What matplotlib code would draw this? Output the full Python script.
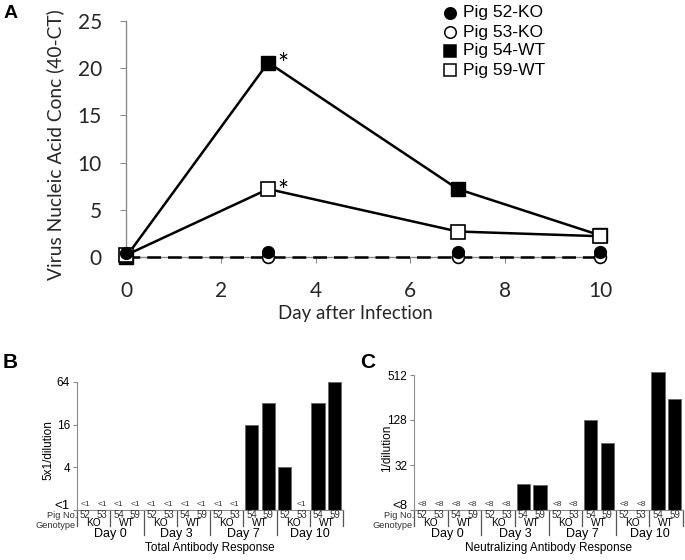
import matplotlib
matplotlib.use("Agg")
import matplotlib.pyplot as plt
from matplotlib.lines import Line2D
from matplotlib.transforms import ScaledTranslation

W, H = 685, 560

# panel A: virus nucleic acid (40-CT) by day
days = [0, 3, 7, 10]
pig52_ko = [0.4, 0.5, 0.5, 0.5]
pig53_ko = [0.0, 0.0, 0.0, 0.0]
pig54_wt = [0.0, 20.6, 7.2, 2.3]
pig59_wt = [0.2, 7.2, 2.7, 2.2]
legend_labels = ["Pig 52-KO", "Pig 53-KO", "Pig 54-WT", "Pig 59-WT"]

# panels B/C: one value per pig (52, 53, 54, 59) per day; None = below detection
pig_no = ["52", "53", "54", "59"]
genotypes = ["KO", "WT"]
day_labels = ["Day 0", "Day 3", "Day 7", "Day 10"]
total_ab = [None, None, None, None, None, None, None, None,
            None, None, 16, 32, 4, None, 32, 64]
neut_ab = [None, None, None, None, None, None, 18, 17.5,
           None, None, 128, 64, None, None, 560, 245]
total_ticks = [1, 4, 16, 64]
total_ticklabels = ["<1", "4", "16", "64"]
neut_ticks = [8, 32, 128, 512]
neut_ticklabels = ["<8", "32", "128", "512"]

SPINE = "#8c8c8c"
ARIAL = "Liberation Sans"


def fx(px):
    return px / W


def fy(py):
    return 1 - py / H


def box(l, t, r, b):
    return [fx(l), fy(b), fx(r) - fx(l), fy(t) - fy(b)]


fig = plt.figure(figsize=(W / 100, H / 100), dpi=100)

# ---------------- panel A ----------------
ax = fig.add_axes(box(126, 21, 600, 257))
ax.plot(days, pig53_ko, color="k", lw=1.8, ls=(0, (5.5, 2.8)), marker="o",
        ms=8.5, mfc="white", mec="k", mew=1.2, clip_on=False, zorder=3)
ax.plot(days, pig54_wt, color="k", lw=1.8, marker="s", ms=9.5,
        mfc="k", mec="k", clip_on=False, zorder=4)
ax.plot(days, pig59_wt, color="k", lw=1.8, marker="s", ms=9.5,
        mfc="white", mec="k", mew=1.2, clip_on=False, zorder=4)
ax.plot(days, pig52_ko, ls="none", marker="o", ms=8.5, mfc="k", mec="k",
        clip_on=False, zorder=5)
for y in (pig54_wt[1], pig59_wt[1]):
    ax.annotate("*", (days[1], y), textcoords="offset pixels", xytext=(15, -3),
                ha="center", va="center", fontsize=19, family="Lato")

ax.set_xlim(0, 10)
ax.set_ylim(0, 25)
ax.set_xticks(range(0, 11, 2))
ax.set_yticks(range(0, 26, 5))
for s in ("top", "right"):
    ax.spines[s].set_visible(False)
for s in ("left", "bottom"):
    ax.spines[s].set_color(SPINE)
    ax.spines[s].set_linewidth(1.0)
ax.tick_params(length=4.3, width=0.8, color=SPINE, pad=13, labelsize=15,
               labelcolor="#262626")
for lab in ax.get_xticklabels() + ax.get_yticklabels():
    lab.set_family("Lato")
fig.text(fx(55), fy(145), "Virus Nucleic Acid Conc (40-CT)", rotation=90,
         ha="center", va="center", fontsize=13.8, family="Lato", color="#262626")
fig.text(fx(355), fy(313), "Day after Infection", ha="center", va="center",
         fontsize=13.4, family="Lato", color="#262626")

# legend drawn by hand
styles = [("o", "k"), ("o", "white"), ("s", "k"), ("s", "white")]
for i, (lab, (mk, fc)) in enumerate(zip(legend_labels, styles)):
    y = 13 + 19 * i
    fig.add_artist(Line2D([fx(450)], [fy(y)], marker=mk, ms=8.3, mfc=fc, mec="k",
                          mew=1.1, ls="none", transform=fig.transFigure))
    fig.text(fx(463), fy(y), lab, ha="left", va="center", fontsize=12.5,
             family=ARIAL)

fig.text(fx(4), fy(14), "A", fontsize=14, weight="bold", family=ARIAL,
         ha="left", va="center")


# ---------------- panels B and C ----------------
def titer_panel(rect, values, lo, hi, ticks, ticklabels, ylabel, ylabel_xy,
                title, below):
    ax = fig.add_axes(rect)
    ax.set_yscale("log", base=2)
    ax.set_ylim(lo, hi)
    ax.set_xlim(0, len(values))
    for i, v in enumerate(values):
        if v is None:
            ax.annotate(below, (i + 0.5, lo), textcoords="offset pixels",
                        xytext=(0, 2), ha="center", va="bottom", fontsize=6,
                        family=ARIAL, color="#333333")
        else:
            ax.bar(i + 0.5, v - lo, bottom=lo, width=0.8, color="k",
                   edgecolor="#666666", linewidth=0.6, clip_on=False)
    ax.set_yticks(ticks)
    ax.set_yticklabels(ticklabels)
    ax.minorticks_off()
    ax.set_xticks([])
    for s in ("top", "right"):
        ax.spines[s].set_visible(False)
    for s in ("left", "bottom"):
        ax.spines[s].set_color(SPINE)
        ax.spines[s].set_linewidth(0.8)
    ax.tick_params(axis="y", length=3, width=0.8, color=SPINE, pad=2,
                   labelsize=8.5)
    labs = ax.get_yticklabels()
    for lab in labs:
        lab.set_family(ARIAL)
    # lowest label sits a little above its tick, clear of the table
    labs[0].set_fontsize(9.5)
    labs[0].set_transform(labs[0].get_transform()
                          + ScaledTranslation(0, 4 / 72, fig.dpi_scale_trans))

    hpx = rect[3] * H
    trans = ax.get_xaxis_transform()

    def yfrac(dpx):
        return -dpx / hpx

    n = len(values)
    for k in range(0, n + 1, 2):
        depth = 25 if (k % 4 == 0 and 0 < k < n) else 16
        ax.plot([k, k], [0, yfrac(depth)], color="#555555", lw=0.9,
                transform=trans, clip_on=False)
    for i in range(n):
        ax.text(i + 0.5, yfrac(5), pig_no[i % 4], transform=trans, ha="center",
                va="center", fontsize=7, family=ARIAL, color="#333333")
    for g in range(n // 2):
        ax.text(2 * g + 1, yfrac(13.5), genotypes[g % 2], transform=trans,
                ha="center", va="center", fontsize=7.3, family=ARIAL)
    for d in range(n // 4):
        ax.text(4 * d + 2, yfrac(24), day_labels[d], transform=trans,
                ha="center", va="center", fontsize=9, family=ARIAL)
    ax.text(0, yfrac(5), "Pig No.", transform=trans, ha="right", va="center",
            fontsize=6.7, family=ARIAL, color="#333333")
    ax.text(-0.1, yfrac(15), "Genotype", transform=trans, ha="right",
            va="center", fontsize=6.7, family=ARIAL, color="#333333")
    ax.text(n / 2, yfrac(38.5), title, transform=trans, ha="center",
            va="center", fontsize=8.5, family=ARIAL)
    fig.text(fx(ylabel_xy[0]), fy(ylabel_xy[1]), ylabel, rotation=90,
             ha="center", va="center", fontsize=8.5, family=ARIAL)
    return ax


titer_panel(box(77, 382, 343, 510), total_ab, 1, 64, total_ticks,
            total_ticklabels, "5x1/dilution", (48, 450),
            "Total Antibody Response", "<1")
titer_panel(box(414, 375, 683, 510), neut_ab, 8, 512, neut_ticks,
            neut_ticklabels, "1/dilution", (387, 448),
            "Neutralizing Antibody Response", "<8")

fig.text(fx(3), fy(363), "B", fontsize=15, weight="bold", family=ARIAL,
         ha="left", va="center")
fig.text(fx(360), fy(363), "C", fontsize=15, weight="bold", family=ARIAL,
         ha="left", va="center")

fig.savefig("out.png", dpi=100)
